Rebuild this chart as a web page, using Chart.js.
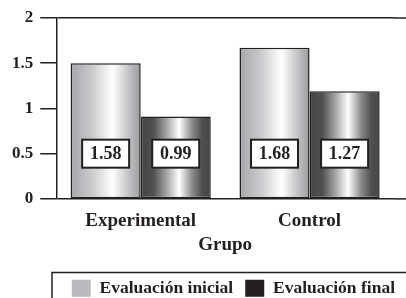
<!DOCTYPE html>
<html>
<head>
<meta charset="utf-8">
<script src="https://cdn.jsdelivr.net/npm/chart.js@4.4.0/dist/chart.umd.min.js"></script>
<style>
  html, body { margin: 0; padding: 0; background: #fff; }
  #wrap { width: 406px; height: 298px; position: relative; }
</style>
</head>
<body>
<div id="wrap"><canvas id="grafico"></canvas></div>
<script>
var grupos = ['Experimental', 'Control'];
var inicial = [1.5, 1.67];
var final = [0.91, 1.19];
var etiquetasInicial = ['1.58', '1.68'];
var etiquetasFinal = ['0.99', '1.27'];
var yTicks = [0, 0.5, 1, 1.5, 2];

var negro = '#231f20';
var fuente = "'Liberation Serif', 'DejaVu Serif', serif";

function degradado(ctx, x0, x1, claro) {
  var g = ctx.createLinearGradient(x0, 0, x1, 0);
  if (claro) {
    g.addColorStop(0, '#a6a7aa');
    g.addColorStop(0.3, '#c9cacc');
    g.addColorStop(0.6, '#ffffff');
    g.addColorStop(0.85, '#bdbec0');
    g.addColorStop(1, '#9a9b9e');
  } else {
    g.addColorStop(0, '#454547');
    g.addColorStop(0.18, '#4f4f51');
    g.addColorStop(0.37, '#a4a5a7');
    g.addColorStop(0.55, '#ffffff');
    g.addColorStop(0.73, '#8c8d8f');
    g.addColorStop(0.88, '#4f4f51');
    g.addColorStop(1, '#454547');
  }
  return g;
}

var extras = {
  id: 'extras',
  afterLayout: function(chart) {
    // bajar y mover la leyenda
    chart.legend.top += 9;
    chart.legend.bottom += 9;
    chart.legend.left += 13;
    chart.legend.right += 13;
  },
  beforeDatasetDraw: function(chart, args) {
    var meta = chart.getDatasetMeta(args.index);
    meta.data.forEach(function(el) {
      var w = el.width;
      var opts = Object.assign({}, el.options);
      opts.backgroundColor = degradado(chart.ctx, el.x - w / 2, el.x + w / 2, args.index === 0);
      el.options = opts;
    });
  },
  afterDatasetsDraw: function(chart) {
    var ctx = chart.ctx;
    var y = chart.scales.y.getPixelForValue(0.5);
    var listas = [etiquetasInicial, etiquetasFinal];
    ctx.save();
    ctx.font = 'bold 18px ' + fuente;
    ctx.textAlign = 'center';
    ctx.textBaseline = 'middle';
    listas.forEach(function(lista, d) {
      chart.getDatasetMeta(d).data.forEach(function(el, i) {
        var bw = 47, bh = 28;
        ctx.fillStyle = '#fff';
        ctx.fillRect(el.x - bw / 2, y - bh / 2, bw, bh);
        ctx.lineWidth = 2;
        ctx.strokeStyle = negro;
        ctx.strokeRect(el.x - bw / 2, y - bh / 2, bw, bh);
        ctx.fillStyle = negro;
        ctx.fillText(lista[i], el.x, y + 1);
      });
    });
    ctx.restore();
  },
  afterDraw: function(chart) {
    var ctx = chart.ctx;
    var ca = chart.chartArea;
    var ys = chart.scales.y;
    ctx.save();
    ctx.strokeStyle = negro;
    ctx.lineWidth = 1.5;
    [0, 2].forEach(function(v) {
      var py = ys.getPixelForValue(v);
      ctx.beginPath();
      ctx.moveTo(ca.right, py);
      ctx.lineTo(chart.width, py);
      ctx.stroke();
    });
    // recuadro de la leyenda
    var lg = chart.legend;
    ctx.strokeRect(52, lg.top + 5, chart.width, 60);
    ctx.restore();
  }
};

new Chart(document.getElementById('grafico'), {
  type: 'bar',
  data: {
    labels: grupos,
    datasets: [
      { label: 'Evaluación inicial', data: inicial, backgroundColor: '#b9babd', borderColor: negro, borderWidth: 1.5, borderSkipped: false, categoryPercentage: 0.83, barPercentage: 1 },
      { label: 'Evaluación final', data: final, backgroundColor: '#231f20', borderColor: negro, borderWidth: 1.5, borderSkipped: false, categoryPercentage: 0.83, barPercentage: 1 }
    ]
  },
  options: {
    responsive: true,
    maintainAspectRatio: false,
    animation: false,
    layout: { padding: { top: 18, right: 12, left: 5, bottom: 0 } },
    plugins: {
      tooltip: { enabled: false },
      legend: {
        position: 'bottom',
        align: 'end',
        labels: {
          color: negro,
          font: { family: fuente, size: 17.5, weight: 'bold' },
          boxWidth: 19,
          boxHeight: 17,
          padding: 12,
          generateLabels: function(chart) {
            var colores = ['#b9babd', '#231f20'];
            return chart.data.datasets.map(function(ds, i) {
              return { text: ds.label, fillStyle: colores[i], strokeStyle: colores[i], lineWidth: 0, datasetIndex: i, fontColor: negro };
            });
          }
        }
      }
    },
    scales: {
      x: {
        grid: { display: false },
        border: { display: false },
        ticks: { color: negro, font: { family: fuente, size: 19, weight: 'bold' }, padding: 3 },
        title: { display: true, text: 'Grupo', color: negro, font: { family: fuente, size: 19, weight: 'bold' }, padding: { top: -2, bottom: 2 } }
      },
      y: {
        min: 0,
        max: 2,
        afterBuildTicks: function(axis) {
          axis.ticks = yTicks.map(function(v) { return { value: v }; });
        },
        grid: {
          color: function(c) { return (c.tick && (c.tick.value === 0 || c.tick.value === 2)) ? negro : 'rgba(0,0,0,0)'; },
          tickColor: negro,
          tickLength: 16,
          lineWidth: 1.5
        },
        border: { display: true, color: negro, width: 1.5 },
        ticks: {
          color: negro,
          padding: 7,
          font: { family: fuente, size: 17, weight: 'bold' },
          callback: function(v) { return String(v); }
        }
      }
    }
  },
  plugins: [extras]
});
</script>
</body>
</html>
